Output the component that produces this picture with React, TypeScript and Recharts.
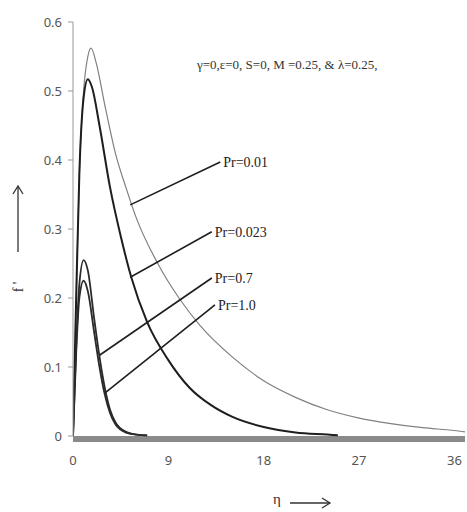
import React from "react";
import { LineChart, Line, XAxis, YAxis, ReferenceLine, ReferenceDot } from "recharts";

// η values and f' values per Prandtl number
const etaPr001 = [0, 0.3, 0.6, 1.0, 1.4, 1.7, 2.2, 3, 4, 5, 6, 8, 10, 12, 15, 18, 21, 24, 27, 30, 33, 36, 37];
const fPr001 = [0, 0.2, 0.38, 0.5, 0.55, 0.562, 0.54, 0.48, 0.41, 0.36, 0.315, 0.25, 0.2, 0.16, 0.115, 0.08, 0.056, 0.038, 0.026, 0.018, 0.012, 0.008, 0.006];

const etaPr0023 = [0, 0.3, 0.6, 1.0, 1.4, 1.8, 2.5, 3.5, 4.5, 5.5, 7, 9, 11, 13, 15, 18, 21, 24, 25];
const fPr0023 = [0, 0.2, 0.38, 0.49, 0.517, 0.505, 0.45, 0.36, 0.29, 0.23, 0.165, 0.11, 0.07, 0.045, 0.028, 0.013, 0.005, 0.002, 0.001];

const etaPr07 = [0, 0.3, 0.6, 1.0, 1.4, 2.0, 2.5, 3.0, 3.5, 4.0, 5.0, 6.0, 7.0];
const fPr07 = [0, 0.13, 0.22, 0.255, 0.24, 0.17, 0.115, 0.07, 0.038, 0.02, 0.006, 0.002, 0.001];

const etaPr10 = [0, 0.3, 0.6, 1.0, 1.4, 2.0, 2.5, 3.0, 3.5, 4.0, 5.0, 6.0, 7.0];
const fPr10 = [0, 0.12, 0.2, 0.225, 0.21, 0.15, 0.1, 0.06, 0.033, 0.017, 0.005, 0.002, 0.001];

const xTicks = [0, 9, 18, 27, 36];
const yTicks = [0, 0.1, 0.2, 0.3, 0.4, 0.5, 0.6];

const seriesNames = ["Pr=0.01", "Pr=0.023", "Pr=0.7", "Pr=1.0"];
// leader lines (data units): from curve to label
const leaderFrom = [
  [5.4, 0.335],
  [5.4, 0.23],
  [2.5, 0.117],
  [3.0, 0.062],
];
const leaderTo = [
  [13.9, 0.397],
  [13.1, 0.296],
  [13.1, 0.229],
  [13.4, 0.19],
];

const paramText = "γ=0,ε=0, S=0, M =0.25, & λ=0.25,";

const toData = (xs: number[], ys: number[]) => xs.map((x, i) => ({ eta: x, f: ys[i] }));

const serif = "'Liberation Serif', 'Times New Roman', serif";
const sans = "'Noto Sans', 'DejaVu Sans', sans-serif";

export default function App() {
  const tickStyle = { fontFamily: sans, fontSize: 13, fill: "#555" };
  return (
    <div style={{ position: "absolute", left: 0, top: 0, width: 467, height: 512, background: "#fff" }}>
      <LineChart
        width={467}
        height={512}
        margin={{ top: 22, right: 2, bottom: 36, left: 0 }}
      >
        <XAxis
          type="number"
          dataKey="eta"
          domain={[0, 37]}
          ticks={xTicks}
          allowDataOverflow
          tickLine={false}
          tickSize={6}
          tickMargin={14}
          height={40}
          axisLine={false}
          tick={tickStyle}
        />
        <YAxis
          type="number"
          dataKey="f"
          domain={[0, 0.6]}
          ticks={yTicks}
          width={73}
          tickSize={5}
          tickMargin={6}
          axisLine={{ stroke: "#999", strokeWidth: 1 }}
          tickLine={{ stroke: "#999" }}
          tick={tickStyle}
          tickFormatter={(v: number) => (v === 0 ? "0" : String(v))}
        />
        <ReferenceLine y={-0.0045} stroke="#8a8a8a" strokeWidth={6} ifOverflow="visible" />
        <Line data={toData(etaPr001, fPr001)} dataKey="f" type="monotone" stroke="#808080" strokeWidth={1.2} dot={false} isAnimationActive={false} />
        <Line data={toData(etaPr0023, fPr0023)} dataKey="f" type="monotone" stroke="#1e1e1e" strokeWidth={2} dot={false} isAnimationActive={false} />
        <Line data={toData(etaPr07, fPr07)} dataKey="f" type="monotone" stroke="#2a2a2a" strokeWidth={1.8} dot={false} isAnimationActive={false} />
        <Line data={toData(etaPr10, fPr10)} dataKey="f" type="monotone" stroke="#2a2a2a" strokeWidth={1.8} dot={false} isAnimationActive={false} />
        {seriesNames.map((name, i) => (
          <ReferenceLine
            key={"l" + name}
            segment={[
              { x: leaderFrom[i][0], y: leaderFrom[i][1] },
              { x: leaderTo[i][0], y: leaderTo[i][1] },
            ]}
            stroke="#1e1e1e"
            strokeWidth={1.6}
            ifOverflow="visible"
          />
        ))}
        {seriesNames.map((name, i) => (
          <ReferenceDot
            key={"d" + name}
            x={leaderTo[i][0]}
            y={leaderTo[i][1]}
            r={0}
            stroke="none"
            fill="none"
            ifOverflow="visible"
            label={{
              value: name,
              position: "right",
              offset: 3,
              style: { fontFamily: serif, fontSize: 14, fill: "#222" },
            }}
          />
        ))}
      </LineChart>
      <svg width={467} height={512} style={{ position: "absolute", left: 0, top: 0, pointerEvents: "none" }}>
        <text x={197} y={69} fontFamily={serif} fontSize={13} fill="#333">{paramText}</text>
        <text x={23} y={287} fontFamily={serif} fontSize={14} fill="#333" textAnchor="middle" transform="rotate(-90 23 287)">f '</text>
        <line x1={18} y1={252} x2={18} y2={187} stroke="#333" strokeWidth={1.3} />
        <polyline points="13,194 18,186 23,194" fill="none" stroke="#333" strokeWidth={1.3} />
        <text x={277} y={504} fontFamily={serif} fontSize={15} fill="#333" textAnchor="middle">η</text>
        <line x1={290} y1={503} x2={330} y2={503} stroke="#333" strokeWidth={1.3} />
        <polyline points="322,498 330,503 322,508" fill="none" stroke="#333" strokeWidth={1.3} />
      </svg>
    </div>
  );
}
